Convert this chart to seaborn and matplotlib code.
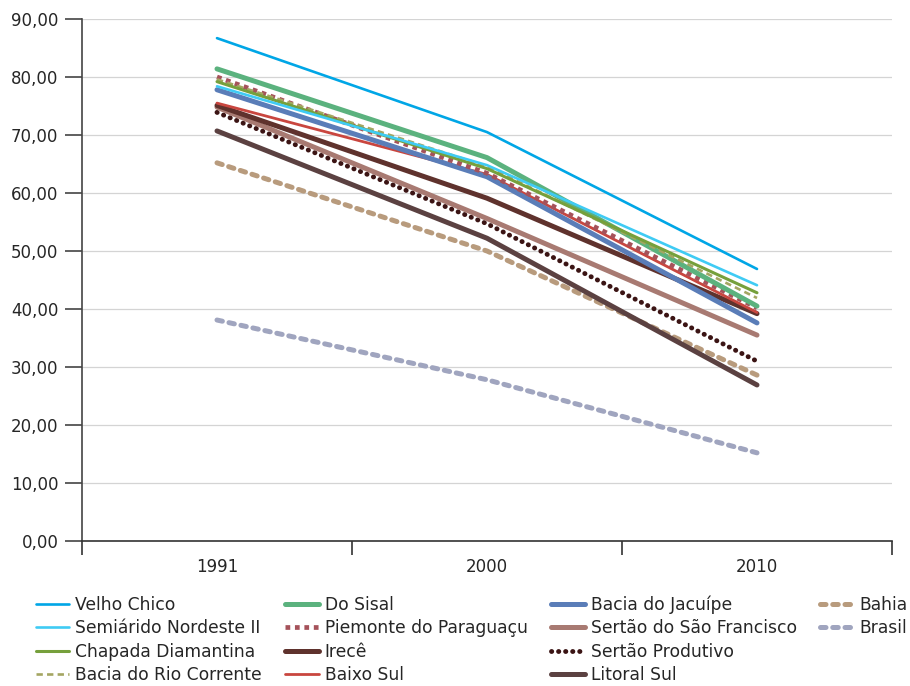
import matplotlib
matplotlib.use("Agg")
import matplotlib.pyplot as plt
import seaborn as sns
import pandas as pd
from matplotlib.lines import Line2D
from matplotlib.ticker import FixedLocator, FuncFormatter

sns.set_theme(style="white")
plt.rcParams['font.family'] = ['DejaVu Sans']

years = ["1991", "2000", "2010"]

velho_chico = [86.7, 70.5, 46.9]
semiarido_ne2 = [78.4, 64.8, 44.1]
chapada_diamantina = [79.2, 64.2, 42.8]
bacia_rio_corrente = [79.6, 64.6, 41.9]
do_sisal = [81.4, 66.1, 40.5]
piemonte_paraguacu = [80.0, 63.4, 40.2]
irece = [75.1, 59.1, 39.2]
baixo_sul = [75.5, 63.2, 39.4]
bacia_jacuipe = [77.8, 62.8, 37.6]
sertao_sao_francisco = [74.8, 55.6, 35.5]
sertao_produtivo = [73.9, 54.7, 31.0]
litoral_sul = [70.7, 52.2, 26.9]
bahia = [65.2, 50.0, 28.6]
brasil = [38.1, 27.8, 15.2]

series = [
    ("Velho Chico", velho_chico, dict(color="#00A6E6", lw=1.9, ls="-")),
    ("Semiárido Nordeste II", semiarido_ne2, dict(color="#3FCBF4", lw=1.9, ls="-")),
    ("Chapada Diamantina", chapada_diamantina, dict(color="#76A03C", lw=2.2, ls="-")),
    ("Bacia do Rio Corrente", bacia_rio_corrente, dict(color="#A4A662", lw=1.9, ls=(0, (2.4, 1.6)))),
    ("Do Sisal", do_sisal, dict(color="#5BB27E", lw=3.6, ls="-")),
    ("Piemonte do Paraguaçu", piemonte_paraguacu, dict(color="#A5525A", lw=3.4, ls=(0, (1.0, 1.0)))),
    ("Irecê", irece, dict(color="#5F322D", lw=3.6, ls="-")),
    ("Baixo Sul", baixo_sul, dict(color="#C9463F", lw=2.0, ls="-")),
    ("Bacia do Jacuípe", bacia_jacuipe, dict(color="#5A7DB8", lw=3.6, ls="-")),
    ("Sertão do São Francisco", sertao_sao_francisco, dict(color="#A87A72", lw=3.6, ls="-")),
    ("Sertão Produtivo", sertao_produtivo, dict(color="#3B1414", lw=3.5, ls=(0, (0.05, 1.4)), cap="round")),
    ("Litoral Sul", litoral_sul, dict(color="#5B4141", lw=3.6, ls="-")),
    ("Bahia", bahia, dict(color="#B89B7D", lw=3.6, ls=(0, (1.1, 1.35)), cap="round")),
    ("Brasil", brasil, dict(color="#A0A5BF", lw=3.6, ls=(0, (1.1, 1.35)), cap="round")),
]

fig = plt.figure(figsize=(9.10, 6.86), dpi=100)
ax = fig.add_axes([82/910, 1 - 541/686, (892-82)/910, (541-19)/686])

draw_order = ["Brasil", "Bahia", "Litoral Sul", "Sertão Produtivo", "Sertão do São Francisco",
              "Irecê", "Baixo Sul", "Bacia do Jacuípe", "Piemonte do Paraguaçu", "Do Sisal",
              "Bacia do Rio Corrente", "Chapada Diamantina", "Semiárido Nordeste II", "Velho Chico"]
sdict = {name: (vals, st) for name, vals, st in series}
for name in draw_order:
    vals, st = sdict[name]
    df = pd.DataFrame({"ano": years, "valor": vals})
    sns.lineplot(data=df, x="ano", y="valor", ax=ax, color=st["color"], lw=st["lw"],
                 sort=False, legend=False)
    ln = ax.lines[-1]
    ln.set_linestyle(st["ls"])
    if st.get("cap"):
        ln.set_dash_capstyle(st["cap"])
        ln.set_solid_capstyle(st["cap"])
    else:
        ln.set_dash_capstyle("butt")

ax.set_xlim(-0.5, 2.5)
ax.set_ylim(0, 90)
ax.set_yticks(range(0, 91, 10))
ax.yaxis.set_major_formatter(FuncFormatter(lambda v, p: f"{v:.2f}".replace(".", ",")))
ax.set_xticks([0, 1, 2])
ax.set_xticklabels(years)
ax.xaxis.set_minor_locator(FixedLocator([-0.5, 0.5, 1.5, 2.5]))
ax.tick_params(axis="x", which="major", length=0, pad=12, labelsize=12, labelcolor="#262626")
ax.tick_params(axis="x", which="minor", length=10, width=1.2, color="#333333", direction="out", bottom=True)
ax.tick_params(axis="y", length=12, width=1.2, color="#444444", direction="out", left=True,
               labelsize=12, labelcolor="#262626", pad=5)
ax.set_xlabel("")
ax.set_ylabel("")
ax.grid(axis="y", color="#D4D4D4", lw=0.9)
ax.set_axisbelow(True)
for s in ["top", "right"]:
    ax.spines[s].set_visible(False)
ax.spines["left"].set_color("#444444")
ax.spines["left"].set_linewidth(1.2)
ax.spines["bottom"].set_color("#333333")
ax.spines["bottom"].set_linewidth(1.2)

leg_handles = []
leg_labels = []
for name, vals, st in series:
    h = Line2D([], [], color=st["color"], lw=st["lw"], linestyle=st["ls"])
    if st.get("cap"):
        h.set_dash_capstyle(st["cap"])
        h.set_solid_capstyle(st["cap"])
    else:
        if st["lw"] > 3:
            h.set_solid_capstyle("round")
        h.set_dash_capstyle("butt")
    leg_handles.append(h)
    leg_labels.append(name)
for _ in range(2):
    leg_handles.append(Line2D([], [], color="none"))
    leg_labels.append("")

fig.legend(leg_handles, leg_labels, ncol=4, loc="upper left",
           bbox_to_anchor=(36/910, 1 - 595/686), frameon=False, borderpad=0,
           borderaxespad=0, fontsize=12.3, handlelength=1.95, handletextpad=0.35,
           columnspacing=1.38, labelspacing=0.33, labelcolor="#262626")

fig.savefig("out.png", dpi=100)
